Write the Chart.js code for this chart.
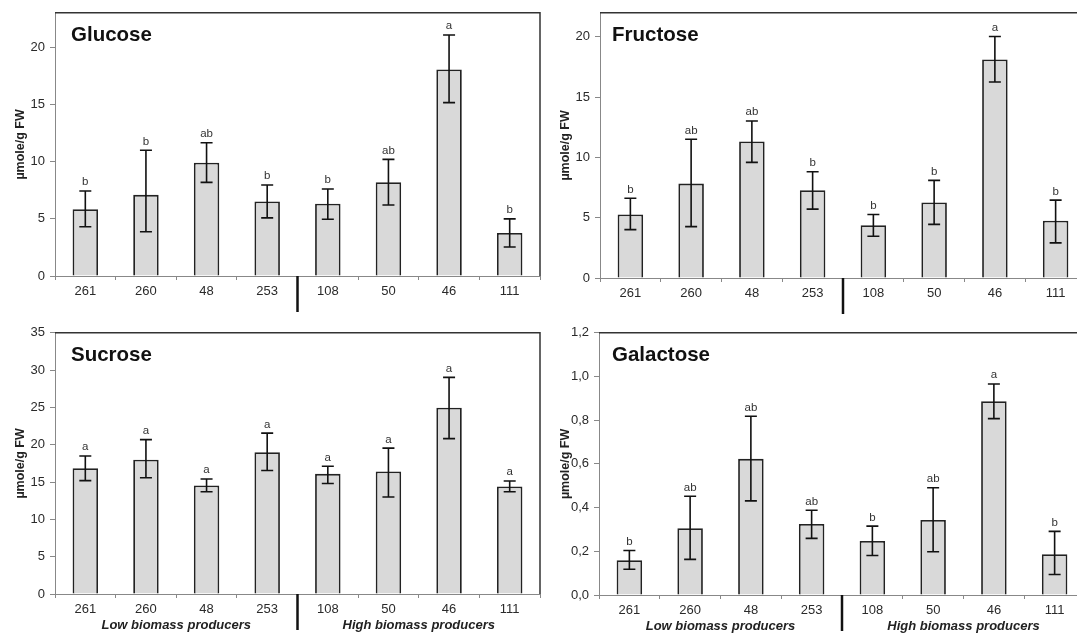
<!DOCTYPE html>
<html><head><meta charset="utf-8">
<script src="https://cdn.jsdelivr.net/npm/chart.js@4.4.1/dist/chart.umd.min.js"></script>
<style>
html,body{margin:0;padding:0;background:#fff;overflow:hidden;width:1077px;height:637px;position:relative}
canvas{position:absolute;display:block}
</style></head><body>
<canvas id="c1" width="545" height="320" style="left:0px;top:0px"></canvas>
<canvas id="c2" width="555" height="320" style="left:545px;top:0px"></canvas>
<canvas id="c3" width="545" height="317" style="left:0px;top:320px"></canvas>
<canvas id="c4" width="555" height="317" style="left:545px;top:320px"></canvas>
<script>
// ---------- DATA ----------
const categories = ['261', '260', '48', '253', '108', '50', '46', '111'];
const groupLabels = ['Low biomass producers', 'High biomass producers'];

const glucoseMean = [5.83, 7.09, 9.9, 6.51, 6.31, 8.2, 18.05, 3.76];
const glucoseHigh = [7.43, 10.99, 11.65, 7.95, 7.6, 10.19, 21.06, 4.99];
const glucoseLow  = [4.3, 3.87, 8.18, 5.08, 4.96, 6.2, 15.15, 2.53];
const glucoseLetters = ['b', 'b', 'ab', 'b', 'b', 'ab', 'a', 'b'];

const fructoseMean = [5.27, 7.83, 11.32, 7.28, 4.37, 6.26, 18.13, 4.75];
const fructoseHigh = [6.62, 11.51, 13.02, 8.82, 5.27, 8.1, 20.03, 6.46];
const fructoseLow  = [4.01, 4.26, 9.59, 5.71, 3.46, 4.45, 16.26, 2.91];
const fructoseLetters = ['b', 'ab', 'ab', 'b', 'b', 'b', 'a', 'b'];

const sucroseMean = [16.85, 17.98, 14.54, 18.99, 16.1, 16.41, 24.97, 14.4];
const sucroseHigh = [18.5, 20.69, 15.41, 21.56, 17.11, 19.55, 29.03, 15.15];
const sucroseLow  = [15.19, 15.58, 13.7, 16.54, 14.8, 13.0, 20.82, 13.7];
const sucroseLetters = ['a', 'a', 'a', 'a', 'a', 'a', 'a', 'a'];

const galactoseMean = [0.159, 0.306, 0.623, 0.325, 0.247, 0.343, 0.887, 0.187];
const galactoseHigh = [0.204, 0.452, 0.818, 0.388, 0.315, 0.491, 0.966, 0.291];
const galactoseLow  = [0.118, 0.163, 0.431, 0.259, 0.181, 0.198, 0.807, 0.094];
const galactoseLetters = ['b', 'ab', 'ab', 'ab', 'b', 'ab', 'a', 'b'];

const yTitle = 'µmole/g FW';
// ---------------------------

const FONT = 'Arial, "Liberation Sans", sans-serif';
Chart.defaults.font.family = FONT;
Chart.defaults.color = '#2a2a2a';

function makePanel(id, p) {
  const deco = {
    id: 'deco_' + id,
    afterDatasetsDraw(chart) {
      const ctx = chart.ctx, xs = chart.scales.x, ys = chart.scales.y, ca = chart.chartArea;
      ctx.save();
      ctx.strokeStyle = '#111';
      ctx.lineWidth = 1.6;
      p.mean.forEach((m, i) => {
        const cx = xs.getPixelForValue(i);
        const yl = ys.getPixelForValue(p.low[i]);
        const yh = ys.getPixelForValue(p.high[i]);
        ctx.beginPath();
        ctx.moveTo(cx, yl); ctx.lineTo(cx, yh);
        ctx.moveTo(cx - 6, yl); ctx.lineTo(cx + 6, yl);
        ctx.moveTo(cx - 6, yh); ctx.lineTo(cx + 6, yh);
        ctx.stroke();
        ctx.fillStyle = '#333';
        ctx.font = '11.5px ' + FONT;
        ctx.textAlign = 'center';
        ctx.textBaseline = 'bottom';
        ctx.fillText(p.letters[i], cx, yh - 3);
      });
      // frame top + right
      ctx.strokeStyle = '#333';
      ctx.lineWidth = 1.5;
      ctx.beginPath();
      ctx.moveTo(ca.left, ca.top); ctx.lineTo(ca.right, ca.top); ctx.lineTo(ca.right, ca.bottom);
      ctx.stroke();
      // panel title
      ctx.fillStyle = '#111';
      ctx.font = 'bold 20.5px ' + FONT;
      ctx.textAlign = 'left';
      ctx.textBaseline = 'alphabetic';
      ctx.fillText(p.title, ca.left + p.titleDx, ca.top + 28.5);
      // group separator
      const sx = (xs.getPixelForValue(3) + xs.getPixelForValue(4)) / 2;
      ctx.strokeStyle = '#111';
      ctx.lineWidth = 2.5;
      ctx.beginPath();
      ctx.moveTo(sx, ca.bottom); ctx.lineTo(sx, ca.bottom + 36);
      ctx.stroke();
      if (p.groups) {
        ctx.fillStyle = '#222';
        ctx.font = 'italic bold 13px ' + FONT;
        ctx.textAlign = 'center';
        ctx.textBaseline = 'middle';
        const g1 = (xs.getPixelForValue(0) + xs.getPixelForValue(3)) / 2;
        const g2 = (xs.getPixelForValue(4) + xs.getPixelForValue(7)) / 2;
        ctx.fillText(groupLabels[0], g1, ca.bottom + 31);
        ctx.fillText(groupLabels[1], g2, ca.bottom + 31);
      }
      ctx.restore();
    }
  };
  return new Chart(document.getElementById(id), {
    type: 'bar',
    data: {
      labels: categories,
      datasets: [{
        data: p.mean,
        backgroundColor: '#d9d9d9',
        borderColor: '#222',
        borderWidth: 1.8,
        categoryPercentage: 1,
        barPercentage: 0.42
      }]
    },
    options: {
      responsive: false,
      animation: false,
      layout: { padding: { left: 0, top: p.padTop, right: p.padRight, bottom: 0 } },
      plugins: { legend: { display: false }, tooltip: { enabled: false } },
      scales: {
        x: {
          afterFit: s => { s.height = p.xHeight; },
          grid: { offset: true, drawOnChartArea: false, drawTicks: true, tickLength: 4, color: '#888' },
          border: { color: '#888', width: 1 },
          ticks: { font: { size: 13 }, color: '#2a2a2a', padding: 4, maxRotation: 0, autoSkip: false }
        },
        y: {
          min: 0, max: p.max,
          afterFit: s => { s.width = p.yWidth; },
          grid: { drawOnChartArea: false, drawTicks: true, tickLength: 5, color: '#888' },
          border: { color: '#888', width: 1 },
          ticks: {
            stepSize: p.step, includeBounds: false, font: { size: 13 }, color: '#2a2a2a', padding: 5,
            callback: v => p.fmt(v)
          },
          title: {
            display: true, text: yTitle, color: '#222',
            font: { size: 12.5, weight: 'bold' }, padding: { top: 13, bottom: 0 }
          }
        }
      }
    },
    plugins: [deco]
  });
}

const intFmt = v => String(Math.round(v));
const decFmt = v => v.toFixed(1).replace('.', ',');

makePanel('c1', { title: 'Glucose', mean: glucoseMean, high: glucoseHigh, low: glucoseLow, letters: glucoseLetters,
  max: 23, step: 5, fmt: intFmt, padTop: 7.5, padRight: 5, xHeight: 44, yWidth: 55, titleDx: 16, groups: false });
makePanel('c2', { title: 'Fructose', mean: fructoseMean, high: fructoseHigh, low: fructoseLow, letters: fructoseLetters,
  max: 22, step: 5, fmt: intFmt, padTop: 10.5, padRight: 14, xHeight: 42, yWidth: 55, titleDx: 12, groups: false });
makePanel('c3', { title: 'Sucrose', mean: sucroseMean, high: sucroseHigh, low: sucroseLow, letters: sucroseLetters,
  max: 35, step: 5, fmt: intFmt, padTop: 7, padRight: 5, xHeight: 43, yWidth: 55, titleDx: 16, groups: true });
makePanel('c4', { title: 'Galactose', mean: galactoseMean, high: galactoseHigh, low: galactoseLow, letters: galactoseLetters,
  max: 1.2, step: 0.2, fmt: decFmt, padTop: 8, padRight: 15, xHeight: 42, yWidth: 54, titleDx: 13, groups: true });
</script>
</body></html>
